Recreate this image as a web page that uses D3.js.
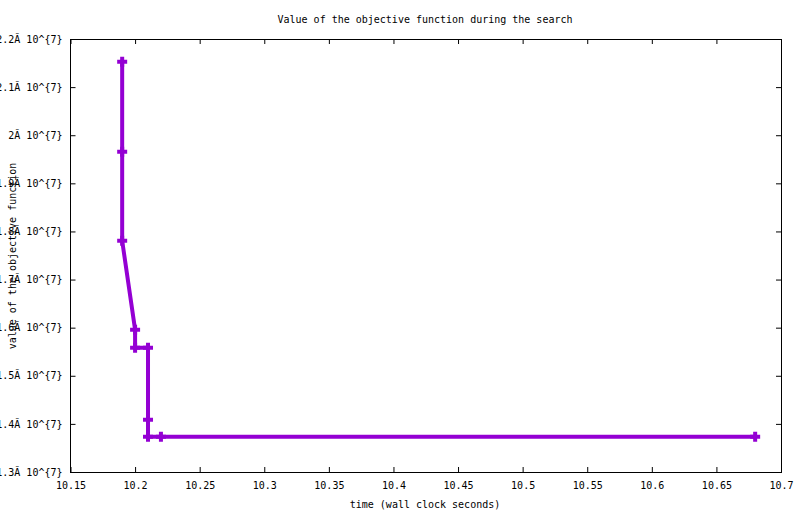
<!DOCTYPE html>
<html>
<head>
<meta charset="utf-8">
<script src="https://cdn.jsdelivr.net/npm/d3@7"></script>
<style>
  body { margin: 0; background: #fff; }
  text { font-family: "DejaVu Sans Mono", "Liberation Mono", monospace; font-size: 10px; fill: #000; }
</style>
</head>
<body>
<div></div>
<script>
const width = 800
const height = 514

// data
const times = [10.19, 10.19, 10.19, 10.2, 10.2, 10.21, 10.21, 10.21, 10.22, 10.68]
const values = [21528000, 19657000, 17807000, 15958000, 15583000, 15583000, 14087000, 13733000, 13733000, 13733000]
const xTicks = [10.15, 10.2, 10.25, 10.3, 10.35, 10.4, 10.45, 10.5, 10.55, 10.6, 10.65, 10.7]
const yTicks = [13e6, 14e6, 15e6, 16e6, 17e6, 18e6, 19e6, 20e6, 21e6, 22e6]
const yTickLabels = ['1.3Ă 10^{7}', '1.4Ă 10^{7}', '1.5Ă 10^{7}', '1.6Ă 10^{7}', '1.7Ă 10^{7}',
                     '1.8Ă 10^{7}', '1.9Ă 10^{7}', '2Ă 10^{7}', '2.1Ă 10^{7}', '2.2Ă 10^{7}']

const margin = {left: 70.5, right: 19, top: 39, bottom: 42}
const plotW = width - margin.left - margin.right
const plotH = height - margin.top - margin.bottom

let svg = d3.select('div').append('svg')
    .attr('width', width)
    .attr('height', height)

const x = d3.scaleLinear().domain([10.15, 10.7]).range([0, plotW])
const y = d3.scaleLinear().domain([13e6, 22e6]).range([plotH, 0])

let g = svg.append('g').attr('transform', 'translate(' + margin.left + ',' + margin.top + ')')

// axes with inward ticks, mirrored on top and right like gnuplot
const tickLen = 5
g.append('g')
    .attr('transform', 'translate(0,' + plotH + ')')
    .call(d3.axisBottom(x).tickValues(xTicks).tickFormat(d => d3.format('')(+d.toFixed(2))).tickSizeInner(-tickLen).tickSizeOuter(0).tickPadding(10))
    .call(a => a.select('.domain').remove())
g.append('g')
    .call(d3.axisTop(x).tickValues(xTicks).tickFormat('').tickSizeInner(-tickLen).tickSizeOuter(0))
    .call(a => a.select('.domain').remove())
g.append('g')
    .call(d3.axisLeft(y).tickValues(yTicks).tickFormat((d, i) => yTickLabels[i]).tickSizeInner(-tickLen).tickSizeOuter(0).tickPadding(8))
    .call(a => a.select('.domain').remove())
g.append('g')
    .attr('transform', 'translate(' + plotW + ',0)')
    .call(d3.axisRight(y).tickValues(yTicks).tickFormat('').tickSizeInner(-tickLen).tickSizeOuter(0))
    .call(a => a.select('.domain').remove())

g.selectAll('.tick line').attr('stroke', '#000')
g.selectAll('.tick text').attr('font-family', null).attr('font-size', null)

g.append('rect')
    .attr('width', plotW)
    .attr('height', plotH)
    .attr('fill', 'none')
    .attr('stroke', '#000')
    .attr('shape-rendering', 'crispEdges')

const pts = times.map((t, i) => [t, values[i]])
const color = '#9400d3'

g.append('path')
    .datum(pts)
    .attr('d', d3.line().x(d => x(d[0])).y(d => y(d[1])))
    .attr('fill', 'none')
    .attr('stroke', color)
    .attr('stroke-width', 4)

const s = 5
g.selectAll('.pt')
    .data(pts)
    .enter()
    .append('path')
    .attr('class', 'pt')
    .attr('d', d => {
        let px = x(d[0]), py = y(d[1])
        return 'M' + (px - s) + ',' + py + 'H' + (px + s) + 'M' + px + ',' + (py - s) + 'V' + (py + s)
    })
    .attr('stroke', color)
    .attr('stroke-width', 4)

svg.append('text')
    .attr('x', 425)
    .attr('y', 23)
    .attr('text-anchor', 'middle')
    .text('Value of the objective function during the search')

svg.append('text')
    .attr('x', 425)
    .attr('y', 508)
    .attr('text-anchor', 'middle')
    .text('time (wall clock seconds)')

svg.append('text')
    .attr('transform', 'translate(16,256) rotate(-90)')
    .attr('text-anchor', 'middle')
    .text('value of the objective function')
</script>
</body>
</html>
